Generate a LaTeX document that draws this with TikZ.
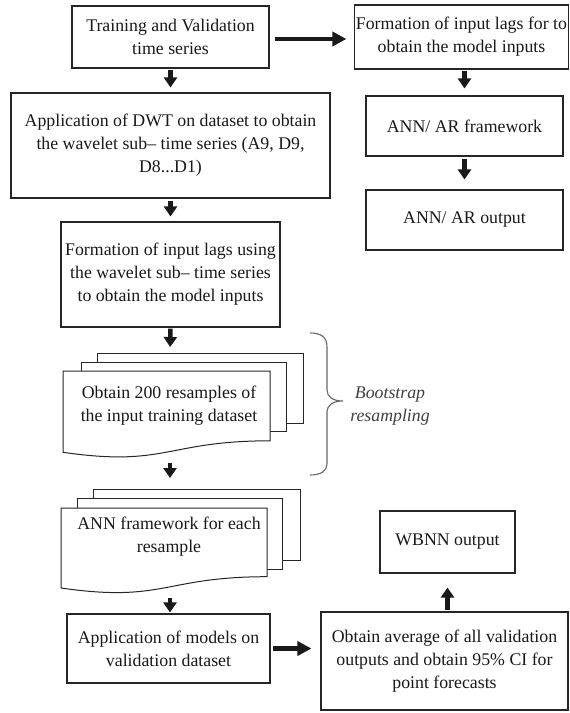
\documentclass[tikz,border=0pt]{standalone}
\usepackage{fontspec}
\setmainfont{Liberation Serif}
\usetikzlibrary{arrows.meta}
\begin{document}
\begin{tikzpicture}[x=1pt,y=-1pt,
  box/.style={draw=black!85, line width=1.1pt, fill=white, align=center, inner sep=1pt, text=black!90, font=\fontsize{17.8}{23}\selectfont},
  varr/.style={line width=4.5pt, -{Triangle[width=13pt,length=10pt]}, black!90},
  harr/.style={line width=4.5pt, -{Triangle[width=14pt,length=14pt]}, black!90},
  sheet/.style={draw=black!85, line width=1pt, fill=white},
  doctext/.style={align=center, inner sep=0pt, text=black!90, font=\fontsize{17.8}{23}\selectfont},
  bracetext/.style={align=center, inner sep=0pt, text=black!75, font=\fontsize{17.8}{23}\selectfont\itshape},
  bracepath/.style={draw=black!60, line width=1.1pt}
]
\useasboundingbox[fill=white] (0,0) rectangle (570,713);

% boxes
\node[box, minimum width=197pt, minimum height=62pt] (b1) at (170.5,37) {Training and Validation\\time series};
\node[box, minimum width=213pt, minimum height=64pt] (r1) at (461.5,37) {Formation of input lags for to\\obtain the model inputs};
\node[box, minimum width=197pt, minimum height=60pt] (r2) at (464.5,126) {ANN/ AR framework};
\node[box, minimum width=197pt, minimum height=60pt] (r3) at (464.5,220) {ANN/ AR output};
\node[box, minimum width=319pt, minimum height=105pt] (b2) at (170.5,145.5) {Application of DWT on dataset to obtain\\the wavelet sub-- time series (A9, D9,\\D8...D1)};
\node[box, minimum width=219pt, minimum height=105pt] (b3) at (170.5,274.5) {Formation of input lags using\\the wavelet sub-- time series\\to obtain the model inputs};
\node[box, minimum width=203pt, minimum height=69pt] (b6) at (168.5,648.5) {Application of models on\\validation dataset};
\node[box, minimum width=247pt, minimum height=98pt] (b7) at (444.5,661) {Obtain average of all validation\\outputs and obtain 95\% CI for\\point forecasts};
\node[box, minimum width=135pt, minimum height=62pt] (wb) at (447.5,542) {WBNN output};

% document stack 1
\draw[sheet] (97,353) rectangle (303,423);
\draw[sheet] (81,362) rectangle (286,431);
\draw[sheet] (63,371) -- (270,371) -- (270,440.8) .. controls (166.5,440.8) and (166.5,467.3) .. (63,452.3) -- cycle;
\node[doctext] (d1) at (169,405.5) {Obtain 200 resamples of\\the input training dataset};
\coordinate (d1top) at (170,353);
\coordinate (d1bot) at (170,452);

% document stack 2
\draw[sheet] (93,489) rectangle (300,560);
\draw[sheet] (77,498) rectangle (282,569);
\draw[sheet] (61,508) -- (267,508) -- (267,576.7) .. controls (164,576.7) and (164,602.9) .. (61,588) -- cycle;
\node[doctext] (d2) at (169,536.5) {ANN framework for each\\resample};
\coordinate (d2top) at (170,489);
\coordinate (d2bot) at (170,588);

% brace
\draw[bracepath] (310,333) .. controls (321,333) and (327,337) .. (327,347) -- (327,390)
  .. controls (327,397) and (333,401) .. (343,401)
  .. controls (333,401) and (327,405) .. (327,412) -- (327,464)
  .. controls (327,471) and (321,475) .. (310,475);
\node[bracetext] (bs) at (390,406.5) {Bootstrap\\resampling};

% arrows
\draw[varr, shorten <=1pt, shorten >=5pt] (b1.south) -- (b2.north);
\draw[harr, shorten <=5pt, shorten >=8pt] ([yshift=-2pt]b1.east) -- ([yshift=-2pt]r1.west);
\draw[varr, shorten <=1pt, shorten >=7pt] (r2.north |- r1.south) -- (r2.north);
\draw[varr, shorten <=2pt, shorten >=10pt] (r2.south) -- (r3.north);
\draw[varr, shorten <=2pt, shorten >=5pt] (b2.south) -- (b3.north);
\draw[varr, shorten <=1pt, shorten >=6pt] (b3.south) -- (d1top);
\draw[varr, shorten <=11pt, shorten >=11pt] (d1bot) -- (d2top);
\draw[varr, shorten <=10pt, shorten >=1pt] (d2bot) -- (d2bot |- b6.north);
\draw[harr, shorten <=2pt, shorten >=9pt] (b6.east) -- (b6.east -| b7.west);
\draw[varr, shorten <=1pt, shorten >=14pt] (wb.south |- b7.north) -- (wb.south);
\end{tikzpicture}
\end{document}
